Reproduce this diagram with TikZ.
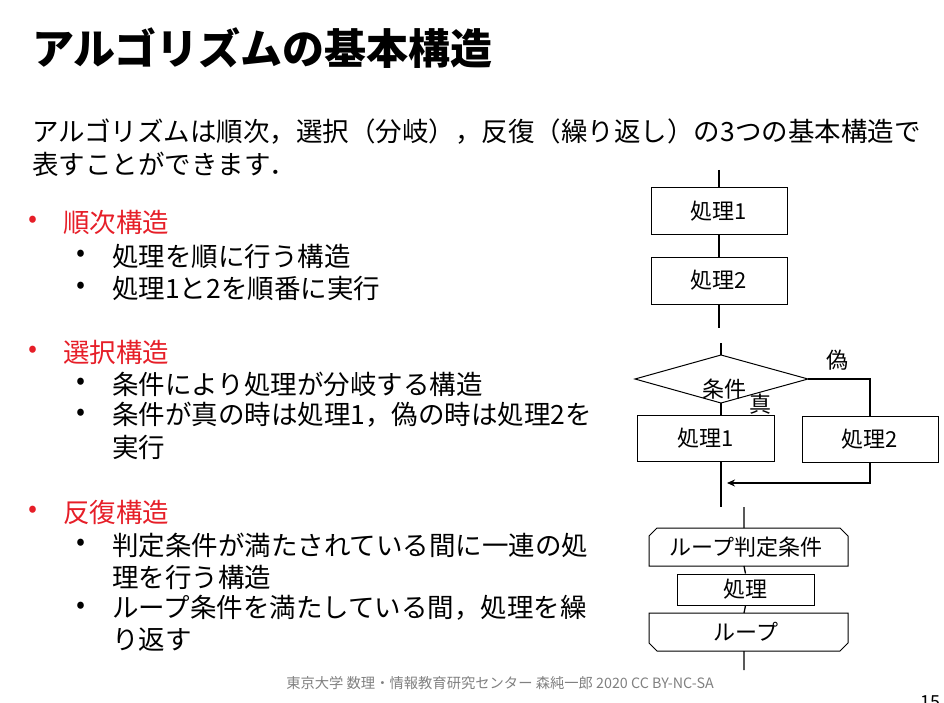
\documentclass[tikz,border=0pt]{standalone}
\usepackage{fontspec}
\setmainfont{Noto Sans CJK JP}
\usetikzlibrary{arrows.meta}
\definecolor{redb}{RGB}{230,30,40}
\tikzset{box/.style={draw,line width=1pt,inner sep=0pt,font=\fontsize{22}{22}\selectfont},
 ln/.style={line width=1.3pt},
 lbl/.style={font=\fontsize{22}{22}\selectfont},
 txt/.style={anchor=west,inner sep=0pt,font=\fontsize{26.5}{27}\selectfont},
 red/.style={txt,text=redb}}
\begin{document}
\begin{tikzpicture}[x=1pt,y=-1pt]
\useasboundingbox (0,0) rectangle (944,703);
\node[anchor=west,inner sep=0pt,font=\fontsize{42}{44}\selectfont\bfseries] (title) at (32,48) {アルゴリズムの基本構造};
\node[txt] (l1) at (32,132) {アルゴリズムは順次，選択（分岐），反復（繰り返し）の3つの基本構造で};
\node[txt] (l2) at (32,164) {表すことができます．};
\foreach \y/\t in {222/順次構造,352/選択構造,512/反復構造}{
 \node[red] at (28,\y) {•}; \node[red] at (63,\y) {\t};}
\foreach \y/\t in {256/処理を順に行う構造,288/処理1と2を順番に実行,384/条件により処理が分岐する構造,415/条件が真の時は処理1，偽の時は処理2を,545/判定条件が満たされている間に一連の処,608/ループ条件を満たしている間，処理を繰}{
 \node[txt] at (76,\y) {•}; \node[txt] at (112,\y) {\t};}
\node[txt] at (112,447) {実行};
\node[txt] at (112,577) {理を行う構造};
\node[txt] at (112,640) {り返す};
% sequence
\coordinate (s0) at (719,170);
\node[box,minimum width=136pt,minimum height=47pt] (p1) at (719,211.5) {処理1};
\node[box,minimum width=136pt,minimum height=47pt] (p2) at (719,280.5) {処理2};
\coordinate (s3) at (719,328);
\draw[ln] (s0)--(p1) (p1)--(p2) (p2)--(s3);
% selection
\coordinate (c0) at (721,343);
\coordinate (dt) at (721,355); \coordinate (dl) at (635,379);
\coordinate (dr) at (808,379); \coordinate (db) at (721,403);
\draw[line width=1pt] (dt)--(dr)--(db)--(dl)--cycle;
\node[lbl] (cond) at (724,389) {条件};
\node[lbl] (f) at (837,360) {偽};
\node[lbl] (t) at (760,404) {真};
\node[box,minimum width=137pt,minimum height=46pt] (q1) at (705.5,438) {処理1};
\node[box,minimum width=136pt,minimum height=46pt] (q2) at (870,439) {処理2};
\coordinate (c5) at (721,507);
\coordinate (ah) at (727,483);
\draw[ln] (c0)--(dt) (db)--(q1.north-|db) (q1.south-|db)--(c5);
\draw[ln] (dr)-|(q2.north);
\draw[ln,-{Stealth[length=8pt,width=7pt]}] (q2.south)|-(ah);
% loop
\coordinate (r0) at (744,507);
\draw[line width=1pt] (649,566)--(649,536)--(657,528)--(840,528)--(848,536)--(848,566)--cycle;
\node[lbl] (lc) at (746,547) {ループ判定条件};
\node[box,minimum width=137pt,minimum height=31pt] (pr) at (745.5,589.5) {処理};
\draw[line width=1pt] (649,613)--(848,613)--(848,643)--(840,651)--(657,651)--(649,643)--cycle;
\node[lbl] (le) at (746,632) {ループ};
\coordinate (r9) at (744,670);
\draw[ln] (r0)--(744,528) (744,566)--(pr.north) (pr.south)--(744,613) (744,651)--(r9);
\node[text=gray,font=\fontsize{14.3}{14}\selectfont] (foot) at (500,683) {東京大学 数理・情報教育研究センター 森純一郎 2020 CC BY-NC-SA};
\node[font=\fontsize{18}{18}\selectfont,anchor=north] (pg) at (930,692) {15};
\end{tikzpicture}
\end{document}
